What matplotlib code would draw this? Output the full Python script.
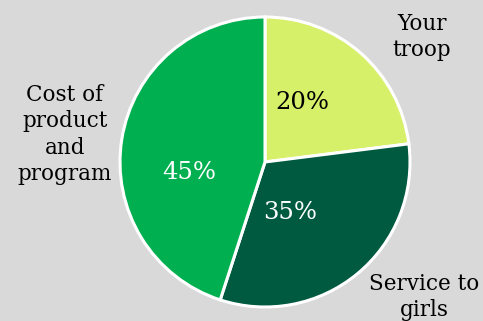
import matplotlib.pyplot as plt

# Data
labels = ["Your\ntroop", "Service to\ngirls", "Cost of\nproduct\nand\nprogram"]
pct_labels = ["20%", "35%", "45%"]
# wedge sizes as drawn in the picture
shares = [23, 32, 45]
colors = ["#d7f06a", "#005a40", "#00b050"]
pct_colors = ["black", "white", "white"]

# label and percent positions (in pie-radius units)
label_pos = [(1.08, 0.86), (1.10, -0.93), (-1.38, 0.19)]
pct_pos = [(0.26, 0.41), (0.17, -0.35), (-0.52, -0.07)]

bg = "#d9d9d9"
fig = plt.figure(figsize=(4.83, 3.21), dpi=100, facecolor=bg)
ax = fig.add_axes([120 / 483, 14 / 321, 290 / 483, 290 / 321])
ax.set_facecolor(bg)

ax.pie(shares, colors=colors, startangle=90, counterclock=False, radius=1,
       wedgeprops=dict(edgecolor="white", linewidth=2.2))

for s, (x, y), c in zip(pct_labels, pct_pos, pct_colors):
    ax.text(x, y, s, ha="center", va="center", color=c,
            fontsize=17.5, family="DejaVu Serif")

for lab, (x, y) in zip(labels, label_pos):
    ax.text(x, y, lab, ha="center", va="center", color="black",
            fontsize=15.5, family="DejaVu Serif", linespacing=1.25)

ax.set_xlim(-1, 1)
ax.set_ylim(-1, 1)
ax.set_aspect("equal")
ax.axis("off")

fig.savefig("out.png", dpi=100, facecolor=bg)
